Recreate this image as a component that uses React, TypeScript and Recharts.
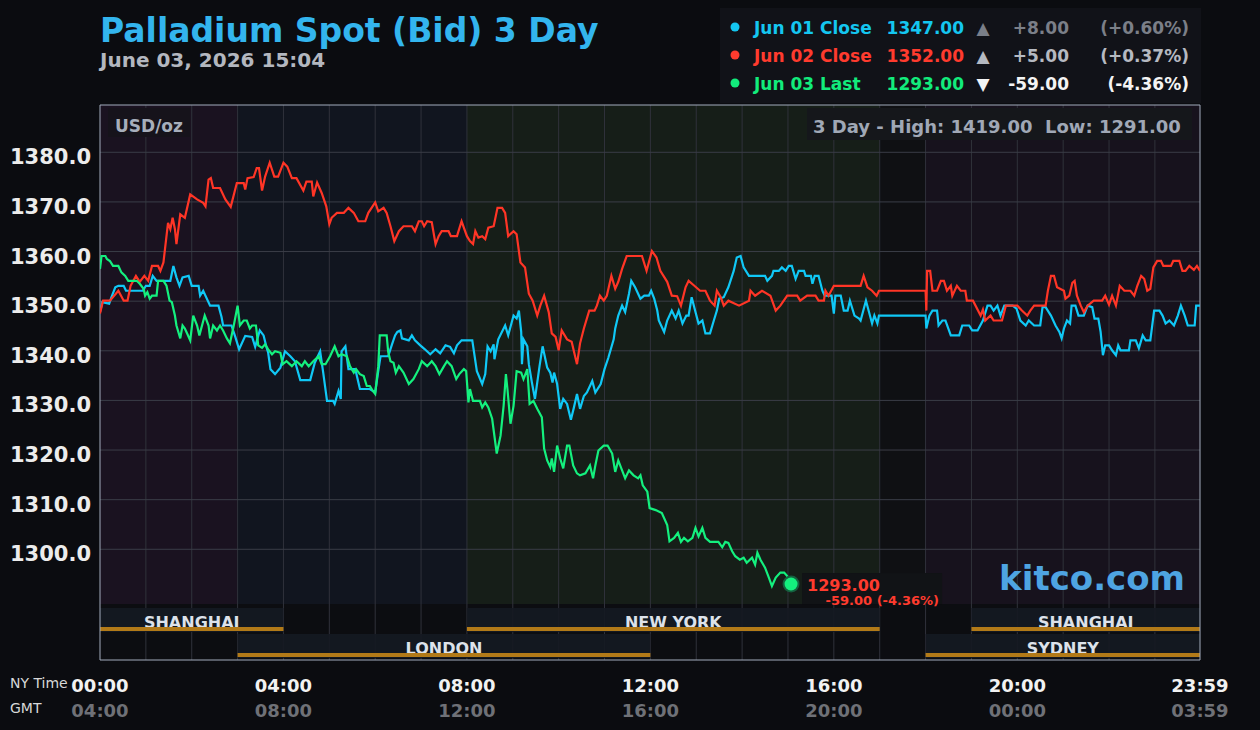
import React from "react";
import {
  LineChart,
  Line,
  XAxis,
  YAxis,
  ReferenceArea,
  ReferenceLine,
  ReferenceDot,
} from "recharts";

const FONT = '"DejaVu Sans", Verdana, sans-serif';

// [minute of NY day, price]
const jun01Close: [number, number][] = [
  [0, 1347.8], [3, 1349.8], [12, 1349.5], [15, 1350.8], [20, 1352.8], [24, 1353.1], [31, 1353.1], [34, 1352.1],
  [56, 1352.1], [60, 1353.1], [65, 1353.1], [69, 1355.1], [74, 1354.1], [92, 1354.1], [96, 1357.1], [100, 1354.8],
  [104, 1353.1], [108, 1354.8], [116, 1355.1], [120, 1353.1], [129, 1353.1], [131, 1351.1], [135, 1352.1], [144, 1349.1],
  [155, 1349.1], [159, 1346.8], [161, 1345.1], [172, 1345.1], [177, 1342.8], [182, 1340.3], [190, 1343], [199, 1342.8],
  [203, 1340.8], [209, 1344.1], [214, 1343.1], [218, 1340.6], [220, 1339.6], [223, 1336.3], [229, 1335.3], [236, 1336.6],
  [242, 1339.9], [249, 1338.9], [255, 1337.9], [262, 1334.1], [275, 1334.1], [281, 1337.6], [288, 1339.9], [292, 1335.6],
  [297, 1329.9], [305, 1329.9], [307, 1329.3], [312, 1331.9], [315, 1330.3], [316, 1339.9], [321, 1340.9], [325, 1336.3],
  [334, 1336.3], [340, 1332.3], [353, 1332.3], [360, 1331.6], [364, 1335.9], [367, 1338.9], [377, 1338.9], [382, 1341.3],
  [386, 1343.1], [389, 1343.8], [393, 1344.1], [395, 1342.5], [404, 1342.1], [408, 1343.1], [412, 1342.1], [419, 1341.1],
  [425, 1340.3], [432, 1339.3], [439, 1340.3], [445, 1339.5], [452, 1341.1], [458, 1340.8], [463, 1339.5], [467, 1341.1],
  [473, 1342.1], [487, 1342.1], [493, 1335.9], [500, 1333.3], [504, 1335.3], [507, 1340.9], [511, 1339.9], [515, 1341.3],
  [516, 1338.3], [521, 1342.3], [530, 1345.1], [534, 1343.1], [541, 1347.1], [545, 1346.5], [548, 1348.1], [551, 1343.8],
  [552, 1337.3], [554, 1342.3], [559, 1340.9], [561, 1337.3], [565, 1333.6], [569, 1330.3], [575, 1336.9], [579, 1340.9],
  [585, 1336.6], [589, 1335.6], [592, 1333.6], [594, 1335.6], [598, 1333.3], [602, 1328.3], [606, 1330.3], [611, 1329.3],
  [616, 1326.1], [620, 1328.6], [624, 1331.3], [628, 1328.3], [633, 1330.9], [637, 1331.6], [644, 1333.9], [648, 1331.6],
  [655, 1333.3], [660, 1336.3], [665, 1338.6], [672, 1342.3], [674, 1344.5], [678, 1347.1], [683, 1349.1], [687, 1347.8],
  [692, 1351.5], [695, 1354.1], [700, 1352.8], [707, 1350.5], [712, 1351.1], [718, 1351.1], [721, 1352.1], [725, 1350.5],
  [729, 1348.1], [731, 1346.1], [738, 1343.8], [742, 1346.1], [748, 1348.1], [753, 1346.5], [757, 1348.1], [762, 1345.5],
  [767, 1347.1], [770, 1347.1], [774, 1350.8], [779, 1347.8], [783, 1345.5], [788, 1346.1], [792, 1343.5], [798, 1343.5],
  [803, 1346.1], [807, 1348.1], [810, 1350.5], [816, 1350.8], [822, 1352.8], [829, 1356.1], [833, 1358.8], [838, 1359.1],
  [842, 1356.8], [849, 1355.1], [870, 1355.1], [873, 1354.1], [879, 1355.1], [881, 1356.1], [888, 1356.1], [892, 1356.8],
  [897, 1356.1], [901, 1357.1], [905, 1357.1], [910, 1354.5], [914, 1356.1], [921, 1356.1], [923, 1355.1], [930, 1355.1],
  [932, 1353.5], [935, 1355.1], [940, 1355.1], [945, 1352.1], [948, 1351.1], [957, 1351.1], [960, 1347.5], [962, 1351.1],
  [969, 1351.1], [973, 1348.1], [978, 1348.1], [981, 1350.1], [987, 1347.1], [993, 1346.5], [995, 1346.1], [1002, 1350.1],
  [1006, 1347.8], [1010, 1345.5], [1013, 1347.1], [1017, 1345.5], [1019, 1347.1], [1080, 1347.1], [1081, 1344.5], [1085, 1347.1],
  [1089, 1348.1], [1095, 1348.1], [1097, 1345.1], [1102, 1346.1], [1106, 1346.1], [1113, 1343.1], [1124, 1343.1], [1128, 1345.1],
  [1137, 1345.1], [1141, 1344.1], [1148, 1344.1], [1155, 1346.1], [1161, 1349.1], [1165, 1349.1], [1169, 1348.1], [1174, 1349.1],
  [1178, 1347.1], [1183, 1349.1], [1194, 1349.1], [1199, 1348.5], [1204, 1346.1], [1211, 1345.1], [1215, 1346.1], [1222, 1345.1],
  [1230, 1345.1], [1233, 1348.8], [1237, 1348.8], [1244, 1347.1], [1250, 1345.1], [1255, 1343.8], [1258, 1342.5], [1261, 1344.5],
  [1265, 1346.1], [1269, 1345.5], [1271, 1349.1], [1276, 1349.1], [1280, 1347.1], [1287, 1347.1], [1292, 1349.1], [1298, 1348.8],
  [1301, 1346.5], [1306, 1346.5], [1309, 1343.8], [1312, 1339.1], [1315, 1341.1], [1320, 1341.1], [1324, 1340.1], [1329, 1339.1],
  [1332, 1341.1], [1335, 1340.1], [1346, 1340.1], [1348, 1342.1], [1355, 1342.1], [1359, 1340.5], [1364, 1343.1], [1368, 1342.1],
  [1374, 1342.1], [1379, 1348.1], [1386, 1348.1], [1390, 1347.1], [1394, 1345.5], [1399, 1346.1], [1405, 1345.1], [1410, 1347.1],
  [1414, 1349.1], [1419, 1347.1], [1423, 1345.1], [1432, 1345.1], [1434, 1349.1], [1439, 1349.1],
];

const jun02Close: [number, number][] = [
  [0, 1347.5], [4, 1350.1], [13, 1350.1], [24, 1352.1], [31, 1350.1], [36, 1350.1], [40, 1353.1], [47, 1355.1],
  [52, 1353.9], [58, 1355.1], [63, 1354.1], [68, 1357.1], [76, 1357.1], [79, 1356.1], [83, 1357.8], [85, 1360.5],
  [89, 1365.8], [92, 1364.5], [95, 1366.8], [98, 1364.5], [100, 1361.5], [105, 1367.5], [111, 1366.8], [118, 1371.5],
  [127, 1370.5], [135, 1369.8], [138, 1369.1], [142, 1374.5], [145, 1374.8], [148, 1372.8], [157, 1372.8], [164, 1370.5],
  [171, 1369], [179, 1373.8], [188, 1373.8], [190, 1372.5], [193, 1374.8], [201, 1375], [205, 1376.8], [208, 1376.8],
  [212, 1372.3], [216, 1375.1], [222, 1377.9], [228, 1375.1], [233, 1375.1], [240, 1377.9], [245, 1377.1], [251, 1374.8],
  [257, 1374.8], [266, 1372.3], [270, 1374.1], [277, 1374.1], [279, 1371.1], [284, 1373.9], [290, 1371.8], [296, 1369.1],
  [300, 1365.5], [303, 1366.8], [310, 1367.8], [319, 1367.8], [325, 1368.8], [332, 1367.8], [338, 1366.1], [347, 1366.1],
  [351, 1367.8], [360, 1369.9], [364, 1368.1], [371, 1368.8], [375, 1367.8], [380, 1365.1], [385, 1362.1], [391, 1364.1],
  [397, 1365.1], [408, 1365.1], [412, 1364.1], [417, 1366.1], [421, 1366.1], [424, 1365.1], [428, 1366.1], [434, 1365.9],
  [439, 1361.5], [443, 1363.1], [447, 1364.1], [456, 1364.1], [459, 1363.1], [467, 1363.1], [473, 1366.1], [480, 1363.1],
  [484, 1362.1], [488, 1361.5], [491, 1364.1], [495, 1362.8], [500, 1363.1], [504, 1362.5], [508, 1364.8], [515, 1365.1],
  [520, 1368.8], [526, 1368.8], [530, 1367.8], [534, 1363.1], [541, 1364.1], [545, 1363.5], [550, 1357.8], [556, 1356.8],
  [561, 1351.5], [566, 1350.1], [572, 1347.1], [576, 1349.1], [581, 1351.1], [587, 1347.8], [591, 1343.5], [596, 1342.8],
  [600, 1340.1], [604, 1344.1], [611, 1342.3], [617, 1341.8], [624, 1337.3], [628, 1341.5], [633, 1344.5], [640, 1348.1],
  [647, 1348.1], [650, 1349.1], [654, 1351.1], [659, 1350.1], [663, 1351.1], [669, 1355.1], [674, 1352.5], [678, 1353.9],
  [683, 1356.5], [689, 1359.1], [709, 1359.1], [715, 1356.1], [722, 1360.1], [728, 1358.8], [733, 1356.1], [742, 1353.9],
  [748, 1351.1], [755, 1351], [760, 1349.1], [766, 1352.8], [770, 1354.1], [776, 1353.3], [785, 1352.1], [792, 1352.1],
  [798, 1350.1], [804, 1349.1], [807, 1352.1], [812, 1350.8], [816, 1349.1], [822, 1350.1], [836, 1349.1], [849, 1350.1],
  [851, 1352.1], [857, 1351.1], [866, 1352.1], [877, 1351.1], [884, 1348.1], [890, 1349.1], [899, 1351.1], [912, 1351.1],
  [916, 1350.1], [925, 1351.1], [936, 1351.1], [940, 1350.1], [947, 1350.1], [949, 1352.1], [953, 1351.1], [960, 1353.1],
  [995, 1353.1], [999, 1355.1], [1004, 1352.8], [1010, 1352.1], [1016, 1351.1], [1019, 1352.1], [1080, 1352.1], [1081, 1348.1],
  [1082, 1356.1], [1086, 1356.1], [1089, 1352.1], [1095, 1352.1], [1100, 1354.1], [1104, 1354.1], [1108, 1352.1], [1113, 1353.1],
  [1115, 1351.1], [1121, 1353.1], [1126, 1352.1], [1132, 1352.1], [1134, 1350.1], [1142, 1350.1], [1152, 1347.1], [1155, 1348.3],
  [1158, 1346.1], [1165, 1347.1], [1169, 1346.1], [1180, 1346.1], [1185, 1349.1], [1200, 1349.1], [1206, 1348.1], [1213, 1347.1],
  [1217, 1348.1], [1222, 1349.1], [1237, 1349.1], [1240, 1352.1], [1244, 1355.1], [1248, 1355.1], [1252, 1352.8], [1261, 1352.1],
  [1263, 1350.5], [1268, 1351.1], [1272, 1353.7], [1275, 1354.1], [1278, 1351.1], [1283, 1349.1], [1287, 1347.8], [1292, 1349.1],
  [1300, 1350.1], [1311, 1350.1], [1315, 1351.1], [1320, 1349.3], [1324, 1351.1], [1329, 1349.1], [1334, 1353.1], [1340, 1352.1],
  [1348, 1352.1], [1353, 1351.1], [1357, 1353.1], [1362, 1355.1], [1366, 1354.5], [1370, 1352.1], [1374, 1352.5], [1378, 1356.8],
  [1383, 1358.1], [1388, 1358.1], [1391, 1357.1], [1401, 1357.1], [1404, 1358.1], [1412, 1358.1], [1416, 1356.1], [1420, 1356.1],
  [1425, 1357.1], [1431, 1356.3], [1435, 1357.1], [1439, 1356.1],
];

const jun03Last: [number, number][] = [
  [0, 1356.5], [2, 1359.1], [7, 1359.1], [9, 1358.5], [13, 1358.1], [17, 1357.1], [24, 1357.1], [28, 1355.8],
  [33, 1355.1], [37, 1354.1], [48, 1354.1], [52, 1353.5], [57, 1352.5], [59, 1351.1], [62, 1351.8], [65, 1350.5],
  [68, 1351.1], [74, 1351.1], [76, 1354.1], [83, 1354.1], [87, 1353.1], [91, 1350.1], [94, 1349.8], [98, 1347.1],
  [100, 1345.1], [105, 1342.5], [108, 1345.1], [111, 1344.5], [114, 1343.5], [118, 1342.1], [122, 1347.1], [127, 1345.1],
  [130, 1343.1], [137, 1347.1], [142, 1345.1], [144, 1342.5], [148, 1345.1], [153, 1344.1], [157, 1345.1], [161, 1344.1],
  [166, 1342.5], [170, 1341.5], [175, 1345.1], [180, 1349.1], [183, 1345.1], [188, 1346.1], [192, 1346.1], [196, 1344.5],
  [199, 1345.1], [204, 1345.1], [207, 1341.1], [212, 1340.6], [216, 1341.3], [220, 1340.3], [225, 1339.3], [229, 1339.9],
  [236, 1339.6], [239, 1337.3], [244, 1337.9], [251, 1336.9], [257, 1337.9], [264, 1336.9], [268, 1337.9], [273, 1336.9],
  [279, 1337.9], [286, 1338.9], [290, 1337.3], [295, 1337.3], [301, 1338.9], [307, 1340.9], [312, 1338.9], [316, 1339.3],
  [323, 1338.9], [327, 1336.9], [332, 1335.6], [335, 1336.3], [340, 1335.3], [345, 1334.9], [349, 1332.9], [353, 1332.9],
  [357, 1331.9], [360, 1331.3], [364, 1336.9], [366, 1343.1], [375, 1343.1], [377, 1339.8], [380, 1337.9], [384, 1337.6],
  [387, 1335.6], [391, 1336.9], [397, 1335.6], [404, 1333.3], [410, 1334.3], [417, 1336.3], [421, 1337.9], [428, 1336.9],
  [434, 1337.9], [439, 1336.9], [444, 1335.3], [450, 1336.9], [454, 1337.9], [460, 1336.9], [466, 1334.3], [470, 1335.3],
  [476, 1336.3], [479, 1335.9], [482, 1329.6], [484, 1332.3], [488, 1329.9], [497, 1329.9], [500, 1328.6], [504, 1329.6],
  [508, 1328.6], [513, 1326.3], [519, 1319.3], [524, 1322.9], [528, 1328.9], [531, 1335.3], [533, 1332.3], [537, 1325.3],
  [541, 1328.9], [545, 1335.9], [551, 1335.6], [554, 1334.3], [559, 1336.3], [562, 1329.3], [567, 1329.9], [572, 1328.3],
  [578, 1326.6], [581, 1320.3], [585, 1317.9], [589, 1316.6], [591, 1318.3], [594, 1315.6], [598, 1320.9], [602, 1318.3],
  [606, 1316.3], [611, 1320.9], [614, 1320.9], [619, 1316.9], [624, 1315.3], [628, 1314.9], [635, 1315.3], [641, 1316.9],
  [645, 1314.3], [648, 1316.9], [652, 1319.9], [659, 1320.9], [664, 1320.9], [670, 1319.3], [674, 1315.6], [678, 1317.9],
  [683, 1315.9], [687, 1314.3], [692, 1315.9], [698, 1314.9], [704, 1314.3], [707, 1314.9], [710, 1312.9], [716, 1311.6],
  [719, 1308.3], [727, 1307.9], [735, 1307.3], [742, 1304.9], [745, 1301.6], [751, 1302.3], [756, 1303.3], [760, 1301.5],
  [764, 1302.3], [769, 1301.6], [775, 1302.3], [779, 1304.3], [783, 1302.6], [788, 1304.3], [792, 1302.3], [798, 1301.5],
  [809, 1301.5], [814, 1300.4], [818, 1301.5], [822, 1301.3], [827, 1299.6], [831, 1298.6], [837, 1297.9], [842, 1298.3],
  [846, 1297.3], [853, 1298.3], [857, 1296.9], [860, 1299.3], [864, 1297.9], [870, 1296.3], [875, 1294.3], [879, 1292.6],
  [884, 1294.3], [890, 1295.3], [895, 1295.3], [899, 1294.6], [904, 1293],
];

const priceTicks = [1300, 1310, 1320, 1330, 1340, 1350, 1360, 1370, 1380];
const timeTicks = [0, 240, 480, 720, 960, 1200, 1439];
const nyLabels = ["00:00", "04:00", "08:00", "12:00", "16:00", "20:00", "23:59"];
const gmtLabels = ["04:00", "08:00", "12:00", "16:00", "20:00", "00:00", "03:59"];
const hourLines = Array.from({ length: 23 }, (_, i) => (i + 1) * 60);

// price scale: chart top, bottom of the price pane, bottom of the session lanes
const Y_TOP = 1389.53;
const PANE_FLOOR = 1288.98;
const Y_BOTTOM = 1277.69;
const lanes = [
  { top: 1288.17, bottom: 1283.34, barTop: 1284.34, barBottom: 1283.54 },
  { top: 1282.94, bottom: 1278.1, barTop: 1279.1, barBottom: 1278.3 },
];

const backdrops = [
  { from: 0, to: 180, fill: "#1a1220" },
  { from: 180, to: 480, fill: "#11151f" },
  { from: 480, to: 1020, fill: "#161e18" },
  { from: 1020, to: 1080, fill: "#0f1013" },
  { from: 1080, to: 1439, fill: "#17121d" },
];

const sessions = [
  { name: "SHANGHAI", from: 0, to: 240, lane: 0 },
  { name: "NEW YORK", from: 480, to: 1020, lane: 0 },
  { name: "SHANGHAI", from: 1140, to: 1439, lane: 0 },
  { name: "LONDON", from: 180, to: 720, lane: 1 },
  { name: "SYDNEY", from: 1080, to: 1439, lane: 1 },
];

const legendRows = [
  { label: "Jun 01 Close", price: "1347.00", arrow: "▲", change: "+8.00", pct: "(+0.60%)", color: "#14c6f0", muted: "#7b7f88" },
  { label: "Jun 02 Close", price: "1352.00", arrow: "▲", change: "+5.00", pct: "(+0.37%)", color: "#ff3b2e", muted: "#b5b9c1" },
  { label: "Jun 03 Last", price: "1293.00", arrow: "▼", change: "-59.00", pct: "(-4.36%)", color: "#12ec7c", muted: "#f4f4f4" },
];

const BLUE = "#10c8f6";
const RED = "#ff3526";
const GREEN = "#14f07e";

const toPoints = (rows: [number, number][]) => rows.map(([t, v]) => ({ t, v }));
const lastPoint = jun03Last[jun03Last.length - 1];

const PriceTick = ({ x, y, payload }: any) => (
  <text x={x} y={y} dy={12} textAnchor="end" fill="#ececec" fontSize={21} fontWeight="bold" fontFamily={FONT}>
    {Number(payload.value).toFixed(1)}
  </text>
);

const TimeTick = ({ x, y, payload }: any) => {
  const i = timeTicks.indexOf(payload.value);
  return (
    <g>
      <text x={x} y={y + 32} textAnchor="middle" fill="#f2f2f2" fontSize={18} fontWeight="bold" fontFamily={FONT}>
        {nyLabels[i]}
      </text>
      <text x={x} y={y + 57} textAnchor="middle" fill="#6f7177" fontSize={18} fontWeight="bold" fontFamily={FONT}>
        {gmtLabels[i]}
      </text>
    </g>
  );
};

const SessionLabel = ({ viewBox, text }: any) => (
  <text
    x={viewBox.x + viewBox.width / 2}
    y={viewBox.y + 20}
    textAnchor="middle"
    fill="#dde2ea"
    fontSize={16}
    fontWeight="bold"
    fontFamily={FONT}
  >
    {text}
  </text>
);

const LastMarker = ({ cx, cy }: any) => (
  <g>
    <rect x={cx + 11} y={cy - 11} width={140} height={31} fill="#111316" />
    <circle cx={cx} cy={cy} r={8.5} fill="#15603f" />
    <circle cx={cx} cy={cy} r={6.5} fill={GREEN} />
    <text x={cx + 16} y={cy + 7} fill="#ff3b2e" fontSize={16} fontWeight="bold" fontFamily={FONT}>
      {lastPoint[1].toFixed(2)}
    </text>
    <text x={cx + 148} y={cy + 21} textAnchor="end" fill="#ff3b2e" fontSize={13} fontWeight="bold" fontFamily={FONT}>
      -59.00 (-4.36%)
    </text>
  </g>
);

export default function App() {
  return (
    <div
      style={{
        position: "fixed",
        left: 0,
        top: 0,
        width: 1260,
        height: 730,
        background: "#0b0c10",
        overflow: "hidden",
      }}
    >
      <LineChart
        width={1260}
        height={730}
        margin={{ top: 105, right: 60, bottom: 0, left: 0 }}
        style={{ position: "absolute", left: 0, top: 0 }}
      >
        <XAxis
          dataKey="t"
          type="number"
          domain={[0, 1439]}
          ticks={timeTicks}
          height={70}
          axisLine={false}
          tickLine={false}
          tickSize={0}
          tickMargin={0}
          tick={<TimeTick />}
          allowDataOverflow
        />
        <YAxis
          type="number"
          domain={[Y_BOTTOM, Y_TOP]}
          ticks={priceTicks}
          width={100}
          axisLine={false}
          tickLine={false}
          tickSize={0}
          tickMargin={9}
          tick={<PriceTick />}
          allowDataOverflow
        />

        {backdrops.map((b) => (
          <ReferenceArea
            key={`bg-${b.from}`}
            x1={b.from}
            x2={b.to}
            y1={PANE_FLOOR}
            y2={Y_TOP}
            fill={b.fill}
            fillOpacity={1}
            stroke="none"
            zIndex={-40}
          />
        ))}
        <ReferenceArea x1={0} x2={1439} y1={Y_BOTTOM} y2={PANE_FLOOR} fill="#0c0d11" fillOpacity={1} stroke="none" zIndex={-40} />

        {hourLines.map((m) => (
          <ReferenceLine key={`h-${m}`} x={m} stroke="#30323b" strokeWidth={1} zIndex={-30} />
        ))}
        {priceTicks.map((p) => (
          <ReferenceLine key={`p-${p}`} y={p} stroke="#3a3d47" strokeWidth={1} zIndex={-30} />
        ))}

        {sessions.map((s, i) => (
          <ReferenceArea
            key={`lane-${i}`}
            x1={s.from}
            x2={s.to}
            y1={lanes[s.lane].bottom}
            y2={lanes[s.lane].top}
            fill="#151922"
            fillOpacity={0.92}
            stroke="none"
            zIndex={-20}
            label={<SessionLabel text={s.name} />}
          />
        ))}
        {sessions.map((s, i) => (
          <ReferenceArea
            key={`bar-${i}`}
            x1={s.from}
            x2={s.to}
            y1={lanes[s.lane].barBottom}
            y2={lanes[s.lane].barTop}
            fill="#b27a18"
            fillOpacity={1}
            stroke="none"
            zIndex={-10}
          />
        ))}

        <Line data={toPoints(jun01Close)} dataKey="v" type="linear" stroke={BLUE} strokeWidth={2.2} dot={false} isAnimationActive={false} />
        <Line data={toPoints(jun02Close)} dataKey="v" type="linear" stroke={RED} strokeWidth={2.2} dot={false} isAnimationActive={false} />
        <Line data={toPoints(jun03Last)} dataKey="v" type="linear" stroke={GREEN} strokeWidth={2.2} dot={false} isAnimationActive={false} />

        <ReferenceArea
          x1={0}
          x2={1439}
          y1={Y_BOTTOM}
          y2={Y_TOP}
          fill="none"
          fillOpacity={0}
          stroke="#a3acbd"
          strokeWidth={1}
          ifOverflow="visible"
        />
        <ReferenceDot x={lastPoint[0]} y={lastPoint[1]} r={6} shape={<LastMarker />} ifOverflow="visible" />
      </LineChart>

      <svg width={1260} height={730} style={{ position: "absolute", left: 0, top: 0, pointerEvents: "none" }}>
        <text x={100} y={42} fill="#33b5ee" fontSize={33} fontWeight="bold" fontFamily={FONT}>
          Palladium Spot (Bid) 3 Day
        </text>
        <text x={100} y={67} fill="#b3b7bf" fontSize={20} fontWeight="bold" fontFamily={FONT}>
          June 03, 2026 15:04
        </text>

        <rect x={720} y={8} width={481} height={95} fill="#111218" />
        {legendRows.map((r, i) => {
          const base = 34 + i * 28;
          return (
            <g key={r.label} fontFamily={FONT} fontWeight="bold" fontSize={17}>
              <circle cx={735} cy={base - 7} r={4.5} fill={r.color} />
              <text x={754} y={base} fill={r.color}>{r.label}</text>
              <text x={964} y={base} fill={r.color} textAnchor="end">{r.price}</text>
              <text x={983} y={base} fill={r.muted} textAnchor="middle">{r.arrow}</text>
              <text x={1069} y={base} fill={r.muted} textAnchor="end">{r.change}</text>
              <text x={1189} y={base} fill={r.muted} textAnchor="end">{r.pct}</text>
            </g>
          );
        })}

        <rect x={108} y={108} width={82} height={29} fill="#16131b" />
        <text x={115} y={132} fill="#a7aebb" fontSize={17} fontWeight="bold" fontFamily={FONT}>
          USD/oz
        </text>

        <rect x={807} y={108} width={385} height={32} fill="#15171b" />
        <text x={813} y={133} fill="#a0a8b6" fontSize={18} fontWeight="bold" fontFamily={FONT} style={{ whiteSpace: "pre" }}>
          {"3 Day - High: 1419.00  Low: 1291.00"}
        </text>

        <text x={1185} y={590} textAnchor="end" fill="#4ea4e2" fontSize={34} fontWeight="bold" fontFamily={FONT}>
          kitco.com
        </text>

        <text x={10} y={688} fill="#d8d8d8" fontSize={14} fontFamily={FONT}>
          NY Time
        </text>
        <text x={10} y={713} fill="#d8d8d8" fontSize={14} fontFamily={FONT}>
          GMT
        </text>
      </svg>
    </div>
  );
}
